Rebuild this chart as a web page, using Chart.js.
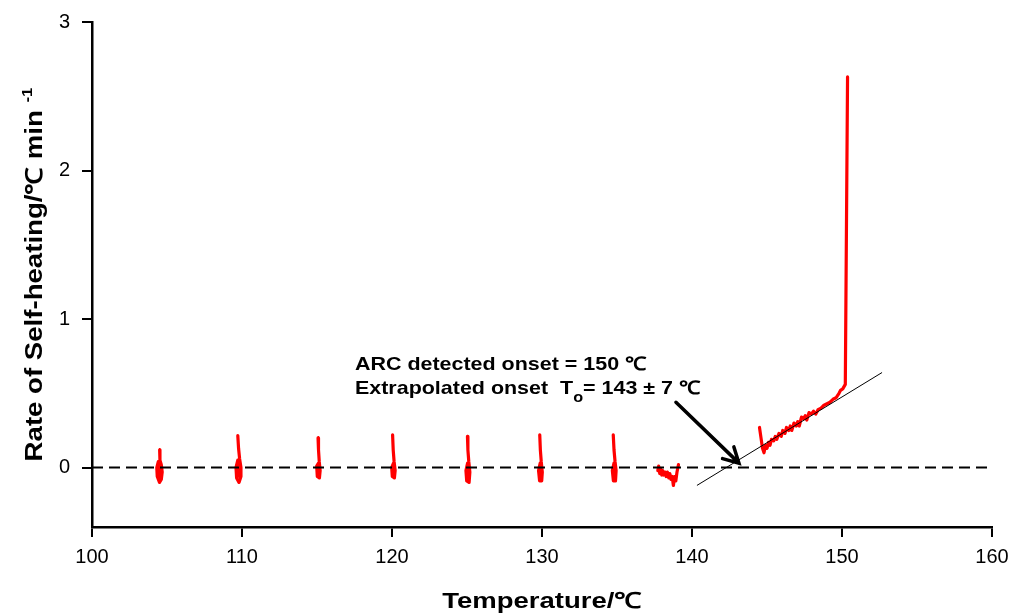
<!DOCTYPE html>
<html>
<head>
<meta charset="utf-8">
<script src="https://cdn.jsdelivr.net/npm/chart.js@4.4.0/dist/chart.umd.min.js"></script>
<style>
  html, body { margin: 0; padding: 0; background: #fff; }
  canvas { display: block; }
</style>
</head>
<body>
<canvas id="arcChart" width="1012" height="615"></canvas>
<script>
// tick labels
const xTicks = [100, 110, 120, 130, 140, 150, 160];
const yTicks = [0, 1, 2, 3];

// heat-wait-search steps (temperature, self-heating rate)
const step105 = [[104.51, 0.12], [104.53, 0.05], [104.62, 0.02], [104.68, -0.03], [104.62, -0.08], [104.5, -0.1], [104.35, -0.06], [104.32, 0.0], [104.42, 0.04], [104.58, 0.02], [104.6, -0.04], [104.46, -0.07], [104.4, -0.02], [104.5, 0.01]];
const step110 = [[109.72, 0.215], [109.77, 0.13], [109.84, 0.06], [109.93, 0.0], [109.93, -0.06], [109.8, -0.1], [109.64, -0.07], [109.6, 0.0], [109.72, 0.05], [109.86, 0.01], [109.88, -0.05], [109.72, -0.06], [109.68, 0.0]];
const step115 = [[115.07, 0.2], [115.1, 0.12], [115.15, 0.04], [115.21, -0.02], [115.16, -0.07], [115.02, -0.06], [114.98, 0.01], [115.1, 0.03], [115.14, -0.03], [115.04, -0.03]];
const step120 = [[120.04, 0.22], [120.08, 0.12], [120.14, 0.04], [120.21, -0.02], [120.16, -0.07], [120.02, -0.06], [119.98, 0.0], [120.1, 0.03], [120.14, -0.03], [120.05, -0.03]];
const step125 = [[125.03, 0.21], [125.06, 0.12], [125.12, 0.04], [125.19, -0.03], [125.14, -0.1], [124.98, -0.09], [124.93, -0.02], [125.04, 0.03], [125.12, -0.01], [125.02, -0.06], [124.99, -0.01]];
const step130 = [[129.85, 0.22], [129.89, 0.12], [129.95, 0.04], [130.02, -0.03], [129.98, -0.09], [129.84, -0.09], [129.77, -0.02], [129.88, 0.03], [129.96, -0.01], [129.85, -0.05], [129.82, 0.0]];
const step135 = [[134.75, 0.22], [134.8, 0.12], [134.87, 0.04], [134.94, -0.02], [134.9, -0.09], [134.76, -0.09], [134.69, -0.02], [134.8, 0.03], [134.89, -0.01], [134.77, -0.05], [134.74, 0.0]];
const step138 = [[137.72, -0.02], [137.78, 0.01], [137.85, -0.04], [137.92, -0.01], [137.98, -0.05], [138.05, -0.02], [138.12, -0.05], [138.2, -0.03], [138.28, -0.06], [138.36, -0.03], [138.45, -0.07], [138.52, -0.04], [138.6, -0.08], [138.68, -0.06], [138.76, -0.12], [138.84, -0.06], [138.92, -0.09], [139.0, -0.03], [139.1, 0.02]];
// exotherm
const exotherm = [[144.5, 0.27], [144.6, 0.2], [144.7, 0.13], [144.8, 0.1], [144.9, 0.15], [145.0, 0.13], [145.1, 0.17], [145.2, 0.15], [145.3, 0.19], [145.45, 0.18], [145.55, 0.21], [145.65, 0.19], [145.8, 0.23], [145.95, 0.21], [146.05, 0.25], [146.2, 0.23], [146.3, 0.27], [146.45, 0.25], [146.55, 0.28], [146.65, 0.25], [146.8, 0.3], [146.95, 0.28], [147.05, 0.31], [147.15, 0.28], [147.3, 0.34], [147.45, 0.33], [147.55, 0.35], [147.65, 0.32], [147.8, 0.37], [147.95, 0.36], [148.1, 0.38], [148.25, 0.36], [148.4, 0.39], [148.6, 0.4], [148.8, 0.42], [149.0, 0.43], [149.2, 0.44], [149.4, 0.46], [149.6, 0.47], [149.8, 0.5], [149.9, 0.52], [150.05, 0.53], [150.22, 0.56], [150.37, 2.63]];
// extrapolation line and zero line
const fitLine = [[140.33, -0.12], [152.67, 0.64]];
const zeroLine = [[100, 0], [160, 0]];
// arrow: from text to extrapolated onset
const arrowFrom = [138.93, 0.44];
const arrowTo = [143.13, 0.03];

const toPts = (arr) => arr.map((p) => ({ x: p[0], y: p[1] }));

const redSteps = [step105, step110, step115, step120, step125, step130, step135, step138, exotherm];

const datasets = [
  {
    data: toPts(zeroLine),
    borderColor: "#000",
    borderWidth: 2,
    borderDash: [11, 6],
  },
  {
    data: toPts(fitLine),
    borderColor: "#000",
    borderWidth: 1,
  },
];
redSteps.forEach((s) => {
  datasets.push({
    data: toPts(s),
    borderColor: "#ff0000",
    borderWidth: 3.2,
    borderJoinStyle: "round",
    borderCapStyle: "round",
  });
});

const FONT = "'Liberation Sans', Arial, sans-serif";

// draw stretched text, returns drawn width
function wideText(ctx, txt, x, y, sx) {
  ctx.save();
  ctx.translate(x, y);
  ctx.scale(sx, 1);
  ctx.fillText(txt, 0, 0);
  ctx.restore();
  return ctx.measureText(txt).width * sx;
}

const textPlugin = {
  id: "textPlugin",
  afterDraw(chart) {
    const ctx = chart.ctx;
    const xs = chart.scales.x;
    const ys = chart.scales.y;
    const area = chart.chartArea;
    ctx.save();
    ctx.fillStyle = "#000";
    ctx.textBaseline = "alphabetic";
    ctx.textAlign = "left";

    // x title
    ctx.font = "bold 22px " + FONT;
    const xt = "Temperature/℃";
    const xsx = 1.25;
    const xw = ctx.measureText(xt).width * xsx;
    wideText(ctx, xt, (area.left + area.right) / 2 - xw / 2, 608, xsx);

    // y title with superscript
    ctx.save();
    ctx.translate(42, (area.top + area.bottom) / 2);
    ctx.rotate(-Math.PI / 2);
    const ysx = 1.2;
    ctx.font = "bold 23px " + FONT;
    const yt = "Rate of Self-heating/℃ min ";
    const w1 = ctx.measureText(yt).width * ysx;
    ctx.font = "bold 14px " + FONT;
    const w2 = ctx.measureText("-1").width * ysx;
    let px = -(w1 + w2) / 2;
    ctx.font = "bold 23px " + FONT;
    px += wideText(ctx, yt, px, 0, ysx);
    ctx.font = "bold 14px " + FONT;
    wideText(ctx, "-1", px, -10, ysx);
    ctx.restore();

    // annotation
    const tx = xs.getPixelForValue(117.53);
    const asx = 1.16;
    ctx.font = "bold 18.5px " + FONT;
    wideText(ctx, "ARC detected onset = 150 ℃", tx, ys.getPixelForValue(0.659), asx);
    const b2 = ys.getPixelForValue(0.498);
    let ax = tx;
    ax += wideText(ctx, "Extrapolated onset  T", ax, b2, asx);
    ctx.font = "bold 14px " + FONT;
    ax += wideText(ctx, "o", ax, b2 + 8, asx);
    ctx.font = "bold 18.5px " + FONT;
    wideText(ctx, "= 143 ± 7 ℃", ax, b2, asx);

    // arrow
    const x0 = xs.getPixelForValue(arrowFrom[0]);
    const y0 = ys.getPixelForValue(arrowFrom[1]);
    const x1 = xs.getPixelForValue(arrowTo[0]);
    const y1 = ys.getPixelForValue(arrowTo[1]);
    const ang = Math.atan2(y0 - y1, x0 - x1);
    const hl = 17;
    const spread = 0.5;
    ctx.strokeStyle = "#000";
    ctx.lineWidth = 3.5;
    ctx.lineCap = "round";
    ctx.beginPath();
    ctx.moveTo(x0, y0);
    ctx.lineTo(x1, y1);
    ctx.moveTo(x1 + hl * Math.cos(ang - spread), y1 + hl * Math.sin(ang - spread));
    ctx.lineTo(x1, y1);
    ctx.lineTo(x1 + hl * Math.cos(ang + spread), y1 + hl * Math.sin(ang + spread));
    ctx.stroke();
    ctx.restore();
  },
};

new Chart(document.getElementById("arcChart"), {
  type: "scatter",
  data: { datasets: datasets },
  options: {
    responsive: false,
    devicePixelRatio: 1,
    animation: false,
    showLine: true,
    elements: { point: { radius: 0 }, line: { tension: 0 } },
    layout: { padding: { left: 0, right: 20, top: 22, bottom: 0 } },
    plugins: { legend: { display: false }, tooltip: { enabled: false } },
    scales: {
      x: {
        type: "linear",
        min: 100,
        max: 160,
        afterBuildTicks: (s) => { s.ticks = xTicks.map((v) => ({ value: v })); },
        afterFit: (s) => { s.height = 88; s.paddingLeft = 0; s.paddingRight = 0; },
        ticks: { color: "#000", font: { family: FONT, size: 20 }, padding: 8 },
        grid: { drawOnChartArea: false, tickLength: 10, color: "#000", lineWidth: 2 },
        border: { color: "#000", width: 2.5 },
      },
      y: {
        type: "linear",
        min: -0.4,
        max: 3,
        afterBuildTicks: (s) => { s.ticks = yTicks.map((v) => ({ value: v })); },
        afterFit: (s) => { s.width = 92; s.paddingTop = 0; s.paddingBottom = 0; },
        ticks: { color: "#000", font: { family: FONT, size: 20 }, padding: 12 },
        grid: { drawOnChartArea: false, tickLength: 10, color: "#000", lineWidth: 2 },
        border: { color: "#000", width: 2.5 },
      },
    },
  },
  plugins: [textPlugin],
});
</script>
</body>
</html>
